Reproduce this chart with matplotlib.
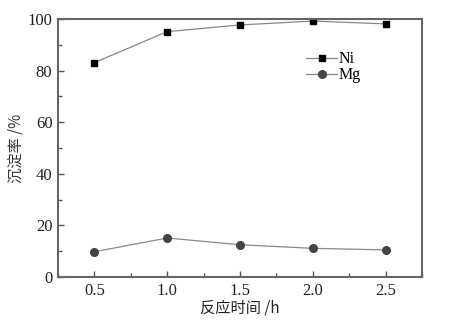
import numpy as np
import matplotlib.pyplot as plt
from matplotlib.ticker import MultipleLocator

time_h = [0.5, 1.0, 1.5, 2.0, 2.5]
ni = [83.1, 95.1, 97.7, 99.2, 98.1]
mg = [9.8, 15.1, 12.5, 11.1, 10.5]

plt.rcParams['font.family'] = ['Liberation Serif', 'Noto Sans CJK SC']
plt.rcParams['font.size'] = 12

fig = plt.figure(figsize=(4.59, 3.21), dpi=100)
ax = fig.add_axes([0.1264, 0.1371, 0.7930, 0.8037])

ax.plot(time_h, ni, color='#888888', lw=0.9, marker='s', ms=5,
        mfc='black', mec='black', label='Ni')
ax.plot(time_h, mg, color='#888888', lw=0.9, marker='o', ms=5.5,
        mfc='#444444', mec='#444444', label='Mg')

ax.set_xlim(0.25, 2.75)
ax.set_ylim(0, 100)
ax.xaxis.set_major_locator(MultipleLocator(0.5))
ax.xaxis.set_minor_locator(MultipleLocator(0.25))
ax.yaxis.set_major_locator(MultipleLocator(20))
ax.yaxis.set_minor_locator(MultipleLocator(10))
ax.tick_params(which='both', direction='in', color='#555555', labelcolor='#222222')
ax.tick_params(which='major', length=4, width=1, pad=4)
ax.tick_params(which='minor', length=3, width=1)
ax.tick_params(axis='x', which='both', top=False)
ax.tick_params(axis='y', which='both', right=False)
for s in ax.spines.values():
    s.set_color('#666666')
    s.set_linewidth(1.5)

ax.set_xlabel('反应时间 /h', fontsize=11, color='#222222', labelpad=1,
              family=['Noto Sans CJK SC', 'Liberation Serif'])
ax.set_ylabel('沉淀率 /%', fontsize=11, color='#333333', labelpad=2,
              family=['Noto Sans CJK SC', 'Liberation Serif'])

ax.legend(loc='upper left', bbox_to_anchor=(0.68, 0.875), frameon=False,
          handlelength=2.0, handletextpad=0.1, labelspacing=0.0, fontsize=11.5,
          borderaxespad=0, borderpad=0)

plt.savefig('out.png', dpi=100)
